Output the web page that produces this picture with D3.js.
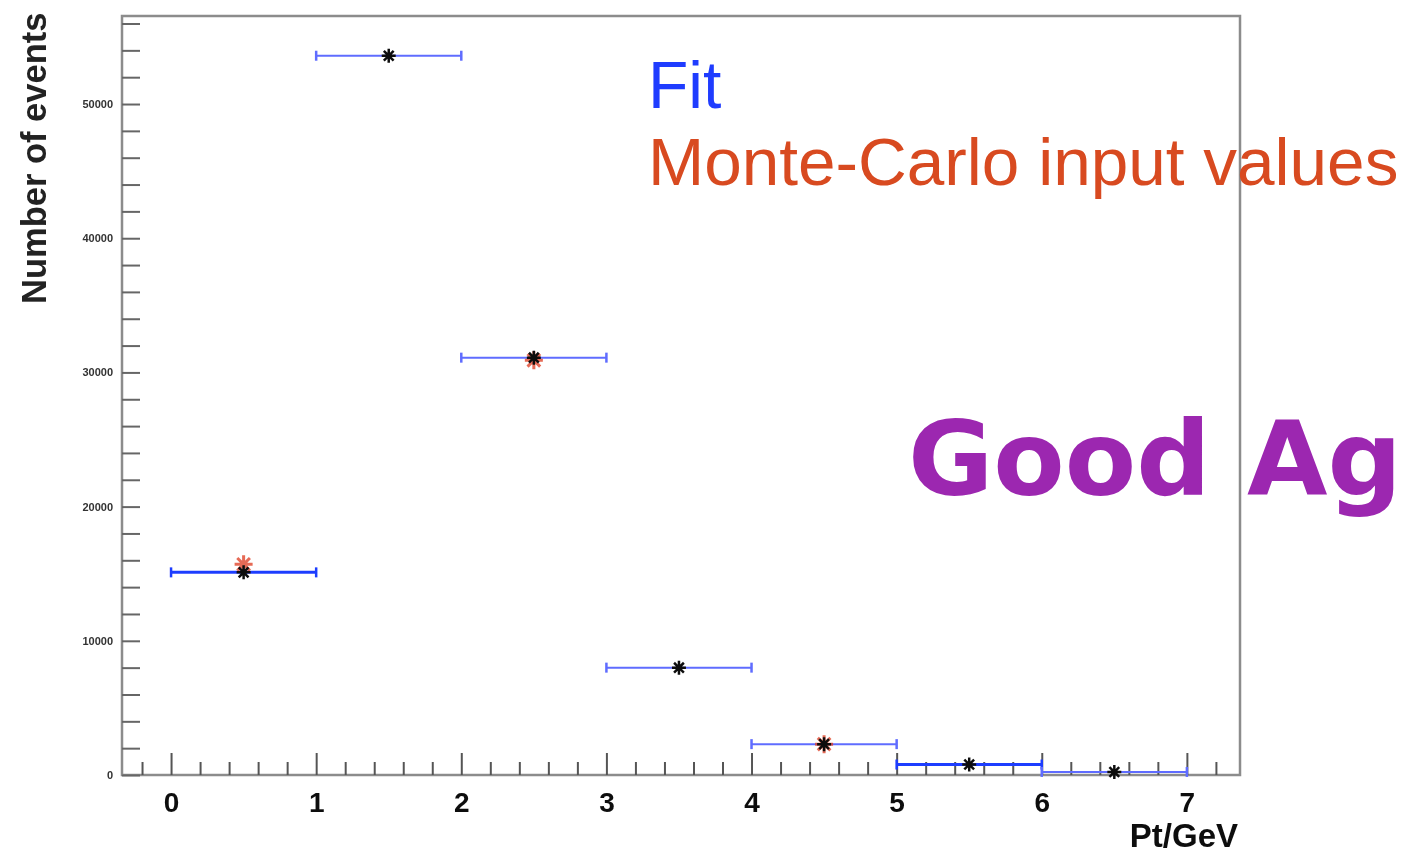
<!DOCTYPE html>
<html><head><meta charset="utf-8">
<script src="https://cdn.jsdelivr.net/npm/d3@7"></script>
<style>body{margin:0;background:#fff}svg{display:block}</style>
</head><body><svg id="c" width="1403" height="855"></svg>
<script>
// ---- data ----
const binLow = [0, 1, 2, 3, 4, 5, 6];
const binHigh = [1, 2, 3, 4, 5, 6, 7];
const fitValues = [15100, 53600, 31100, 8000, 2300, 780, 230];
const mcValues = [15700, null, 30900, null, 2300, null, null];
const xTicks = [0, 1, 2, 3, 4, 5, 6, 7];
const yTicks = [0, 10000, 20000, 30000, 40000, 50000];
const legendLabels = ["Fit", "Monte-Carlo input values"];
const annotation = "Good Ag";
const xTitle = "Pt/GeV";
const yTitle = "Number of events";

// ---- drawing ----
const svg = d3.select("#c");
const F = "'Liberation Sans', Arial, Helvetica, sans-serif";
const L = 122, R = 1240, T = 16, B = 775;
const x = d3.scaleLinear().domain([-0.338, 7.366]).range([L, R]);
const y = d3.scaleLinear().domain([0, 56560]).range([B, T]);

svg.append("defs").append("filter").attr("id", "soft")
  .append("feGaussianBlur").attr("stdDeviation", 0.6);

const g = svg.append("g").attr("filter", "url(#soft)");

// frame
g.append("rect").attr("x", L).attr("y", T).attr("width", R - L).attr("height", B - T)
  .attr("fill", "none").attr("stroke", "#8c8c8c").attr("stroke-width", 2.5);

// x minor ticks
const xMinor = d3.range(-1, 37).map(i => i * 0.2).filter(v => Math.abs(v - Math.round(v)) > 1e-6 && v > -0.33 && v < 7.36);
const xMinAx = g.append("g").attr("transform", `translate(0,${B})`)
  .call(d3.axisBottom(x).tickValues(xMinor).tickSize(-13).tickFormat(""));
xMinAx.select(".domain").remove();
xMinAx.selectAll("line").attr("stroke", "#555").attr("stroke-width", 2);

// x major ticks
const xAx = g.append("g").attr("transform", `translate(0,${B})`)
  .call(d3.axisBottom(x).tickValues(xTicks).tickSize(-22).tickPadding(17).tickFormat(d3.format("d")));
xAx.select(".domain").remove();
xAx.selectAll("line").attr("stroke", "#555").attr("stroke-width", 2);
xAx.selectAll("text").attr("font-family", F).attr("font-weight", "bold")
  .attr("font-size", 28).attr("fill", "#111");

// y ticks
const yAll = d3.range(0, 56001, 2000);
const yAx = g.append("g").attr("transform", `translate(${L},0)`)
  .call(d3.axisLeft(y).tickValues(yAll).tickSize(-18).tickPadding(9)
    .tickFormat(d => yTicks.includes(d) ? d3.format("d")(d) : ""));
yAx.select(".domain").remove();
yAx.selectAll("line").attr("stroke", "#666").attr("stroke-width", 2);
yAx.selectAll("text").attr("font-family", F).attr("font-weight", "bold")
  .attr("font-size", 11).attr("fill", "#333");

// titles
g.append("text").attr("x", 1238).attr("y", 847).attr("text-anchor", "end")
  .attr("font-family", F).attr("font-weight", "bold").attr("font-size", 33).attr("fill", "#111")
  .text(xTitle);
g.append("text").attr("transform", "translate(46,304) rotate(-90)")
  .attr("font-family", F).attr("font-weight", "bold").attr("font-size", 34.5).attr("fill", "#222")
  .text(yTitle);

// error bars
const bins = binLow.map((lo, i) => ({lo, hi: binHigh[i], v: fitValues[i], mc: mcValues[i], i}));
const thick = [0, 5];
const eb = g.append("g");
bins.forEach(d => {
  const c = thick.includes(d.i) ? "#1f3cff" : "#5f6cff";
  const w = thick.includes(d.i) ? 3 : 2;
  eb.append("line").attr("x1", x(d.lo)).attr("x2", x(d.hi)).attr("y1", y(d.v)).attr("y2", y(d.v))
    .attr("stroke", c).attr("stroke-width", w);
  [d.lo, d.hi].forEach(e => eb.append("line").attr("x1", x(e)).attr("x2", x(e))
    .attr("y1", y(d.v) - 5).attr("y2", y(d.v) + 5).attr("stroke", c).attr("stroke-width", 2.5));
});

// markers
const star = r => `M${-r},0L${r},0M0,${-r}L0,${r}M${-0.7*r},${-0.7*r}L${0.7*r},${0.7*r}M${-0.7*r},${0.7*r}L${0.7*r},${-0.7*r}`;
g.append("g").selectAll("path").data(bins.filter(d => d.mc != null)).join("path")
  .attr("transform", d => `translate(${x((d.lo + d.hi) / 2)},${y(d.mc)})`)
  .attr("d", star(9)).attr("stroke", "#e0442a").attr("stroke-width", 3).attr("fill", "none").attr("opacity", 0.8);
g.append("g").selectAll("path").data(bins).join("path")
  .attr("transform", d => `translate(${x((d.lo + d.hi) / 2)},${y(d.v)})`)
  .attr("d", star(7)).attr("stroke", "#111").attr("stroke-width", 2.5).attr("fill", "none");

// legend
svg.append("text").attr("x", 648).attr("y", 108).attr("font-family", F).attr("font-size", 66)
  .attr("fill", "#1f3cff").text(legendLabels[0]);
svg.append("text").attr("x", 648).attr("y", 185).attr("font-family", F).attr("font-size", 67.5)
  .attr("fill", "#d84a20").text(legendLabels[1]);

// annotation
svg.append("text").attr("x", 908).attr("y", 495).attr("font-family", "'DejaVu Sans', Verdana, sans-serif")
  .attr("font-weight", "bold").attr("font-size", 104).attr("fill", "#9c27b0").text(annotation);
</script></body></html>
